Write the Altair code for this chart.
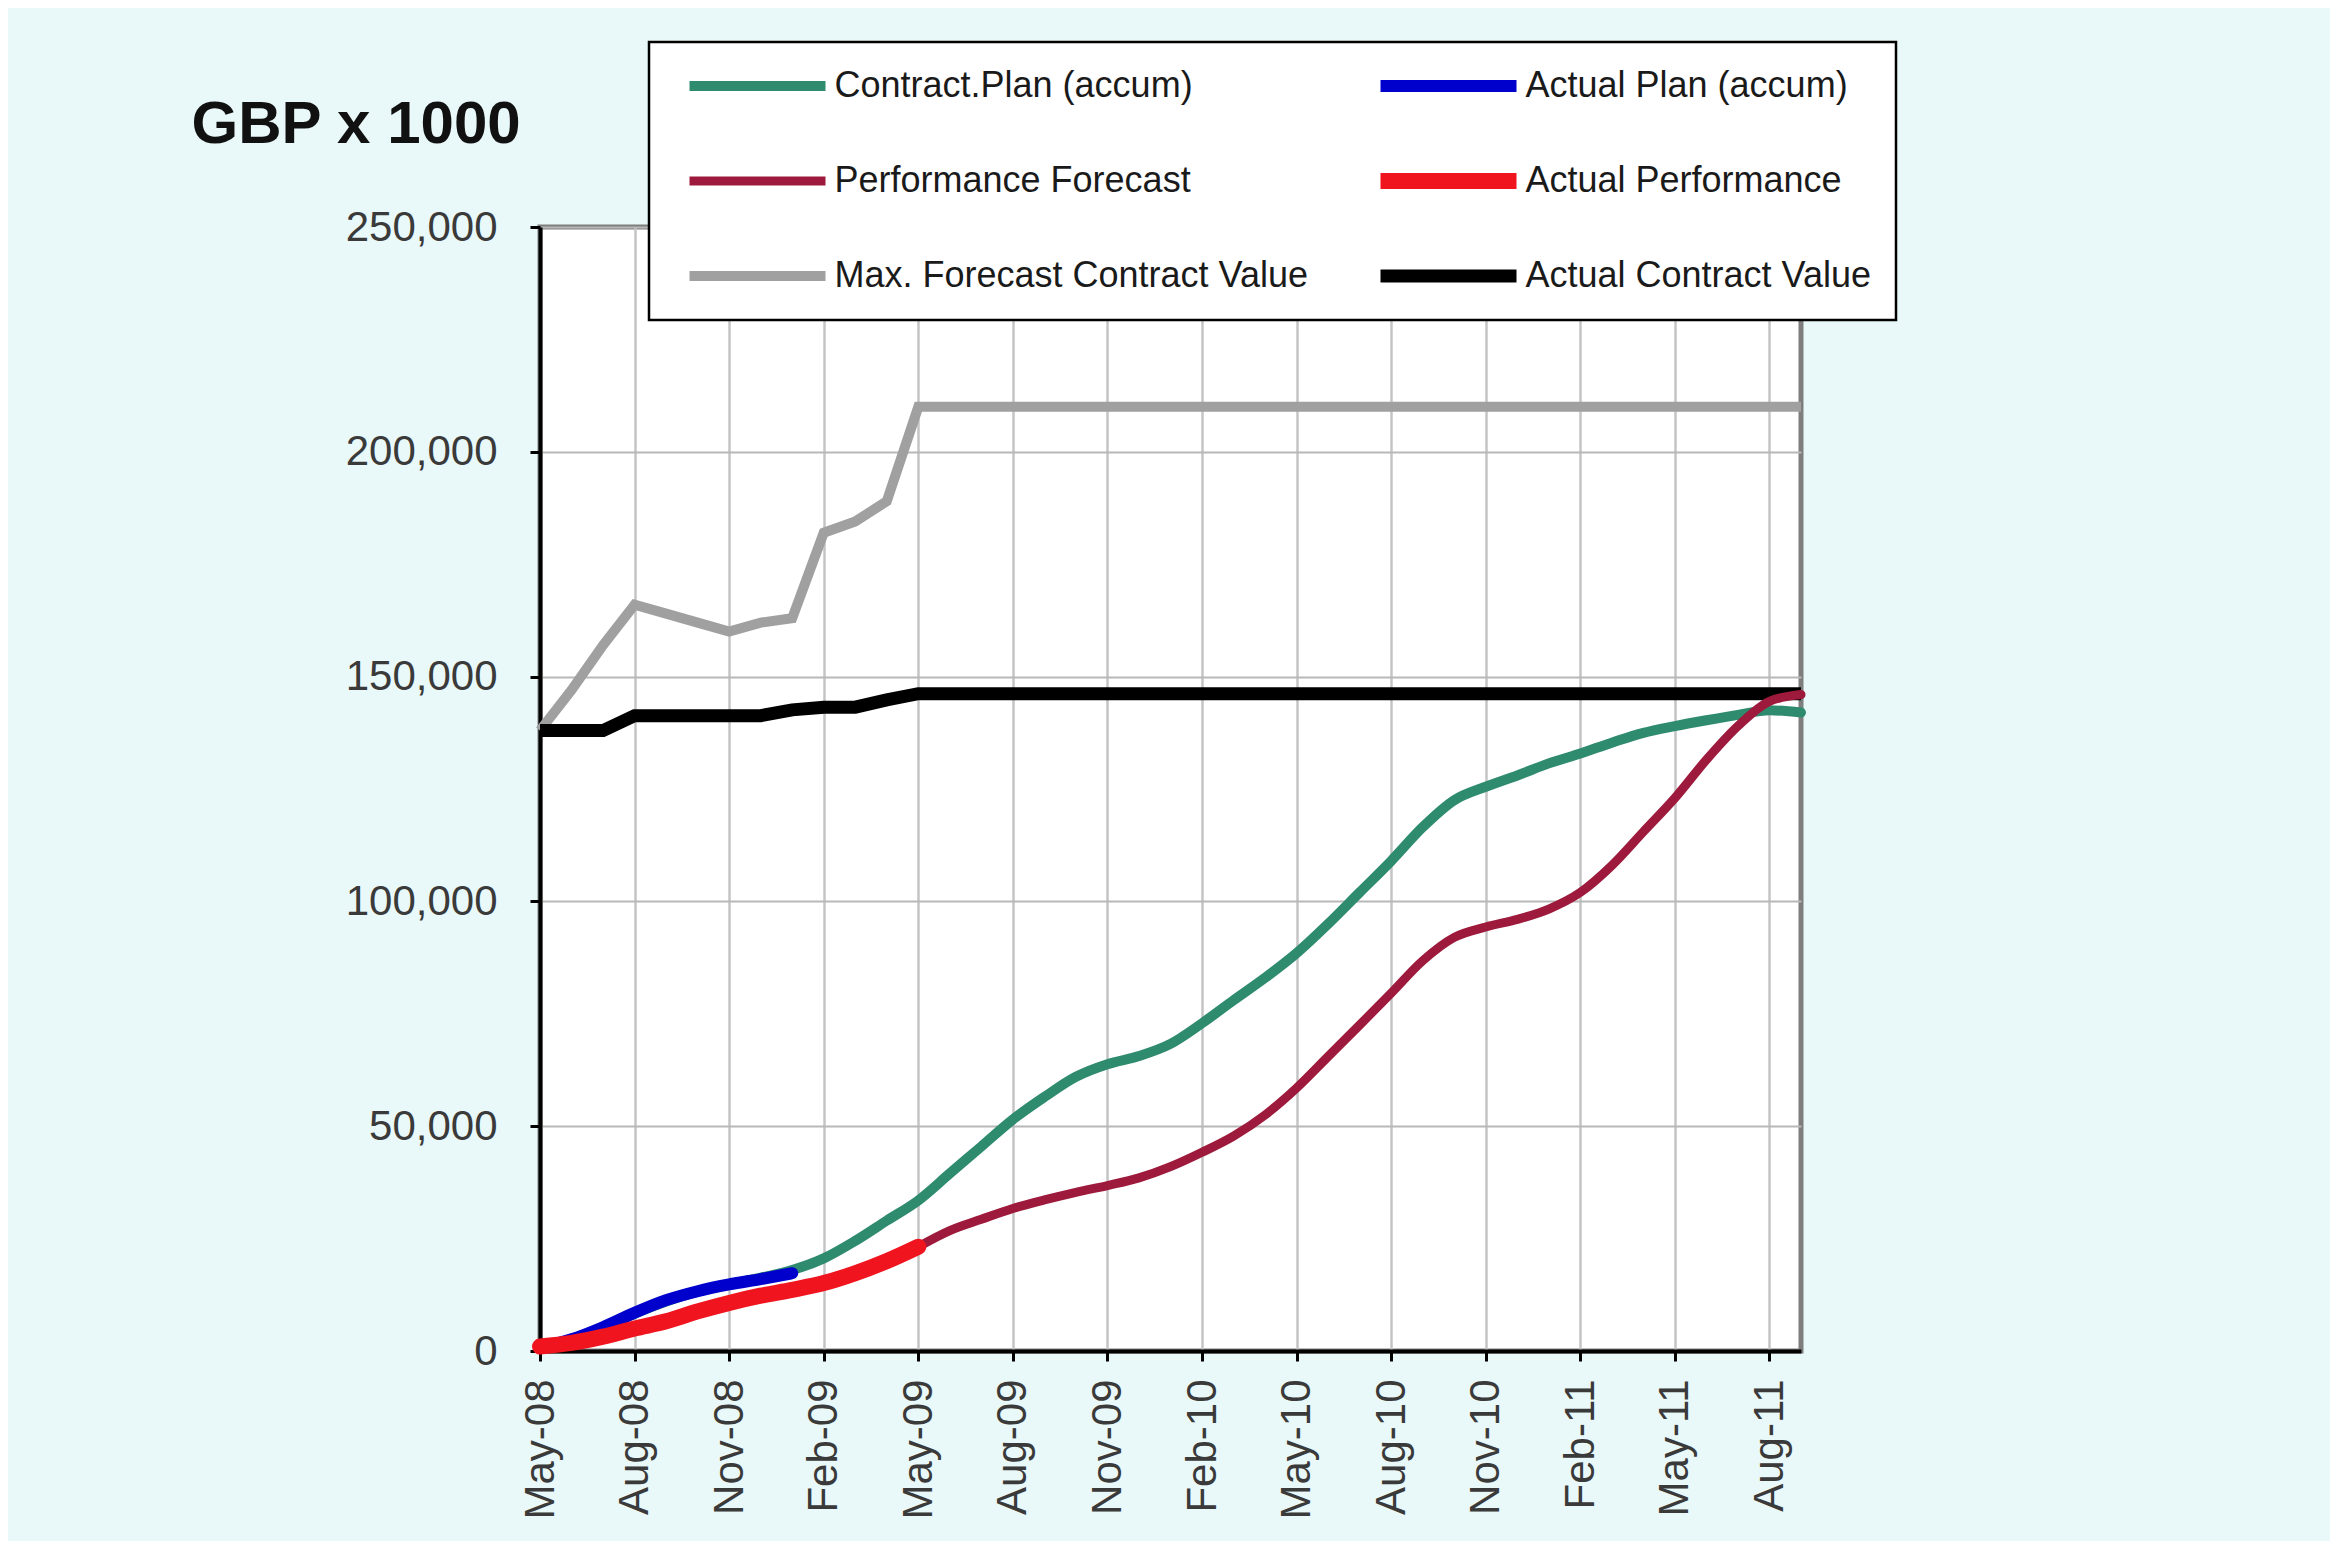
import altair as alt
import pandas as pd

months = ["May-08", "Jun-08", "Jul-08", "Aug-08", "Sep-08", "Oct-08", "Nov-08", "Dec-08",
          "Jan-09", "Feb-09", "Mar-09", "Apr-09", "May-09", "Jun-09", "Jul-09", "Aug-09",
          "Sep-09", "Oct-09", "Nov-09", "Dec-09", "Jan-10", "Feb-10", "Mar-10", "Apr-10",
          "May-10", "Jun-10", "Jul-10", "Aug-10", "Sep-10", "Oct-10", "Nov-10", "Dec-10",
          "Jan-11", "Feb-11", "Mar-11", "Apr-11", "May-11", "Jun-11", "Jul-11", "Aug-11",
          "Sep-11"]

tick_labels = ["May-08", "Aug-08", "Nov-08", "Feb-09", "May-09", "Aug-09", "Nov-09",
               "Feb-10", "May-10", "Aug-10", "Nov-10", "Feb-11", "May-11", "Aug-11"]

y_ticks = [0, 50000, 100000, 150000, 200000, 250000]

series_names = ["Contract.Plan (accum)", "Actual Plan (accum)", "Performance Forecast",
                "Actual Performance", "Max. Forecast Contract Value", "Actual Contract Value"]

contract_plan = [500, 2500, 5000, 8300, 11000, 13200, 14800, 16300, 18000, 20600,
                 24500, 29000, 33500, 39500, 45500, 51500, 56500, 61000, 63800, 65600,
                 68300, 72900, 78000, 83000, 88500, 95000, 102000, 109000, 116500, 122500,
                 125500, 128000, 130700, 132900, 135300, 137500, 139000, 140300, 141500,
                 142500, 142000]

actual_plan = [800, 2600, 5300, 8500, 11300, 13300, 14800, 16000, 17300]

actual_performance = [1000, 1800, 3200, 5000, 6600, 8800, 10700, 12300, 13600, 15100,
                      17300, 20000, 23200]

performance_forecast = [23200, 26800, 29300, 31700, 33600, 35300, 36800, 38500, 41000,
                        44200, 47800, 52500, 58500, 65500, 72500, 79600, 86800, 92000,
                        94300, 96000, 98300, 102000, 108000, 115500, 123000, 131500,
                        139000, 144500, 146000]

max_forecast = [138000, 147000, 157000, 166000, 164000, 162000, 160000, 162000, 163000,
                182000, 184500, 189000, 210000, 210000, 210000, 210000, 210000, 210000,
                210000, 210000, 210000, 210000, 210000, 210000, 210000, 210000, 210000,
                210000, 210000, 210000, 210000, 210000, 210000, 210000, 210000, 210000,
                210000, 210000, 210000, 210000, 210000]

actual_contract = [138000, 138000, 138000, 141300, 141300, 141300, 141300, 141300, 142600,
                   143200, 143200, 144800, 146200, 146200, 146200, 146200, 146200, 146200,
                   146200, 146200, 146200, 146200, 146200, 146200, 146200, 146200, 146200,
                   146200, 146200, 146200, 146200, 146200, 146200, 146200, 146200, 146200,
                   146200, 146200, 146200, 146200, 146200]

colors = ["#2E8B6E", "#0000CC", "#9E1A3C", "#F0141E", "#A0A0A0", "#000000"]
widths = [10, 12, 9, 16, 10, 13]


def rows(name, values, start=0):
    return [{"month": months[start + i], "series": name, "value": v}
            for i, v in enumerate(values)]


smooth_df = pd.DataFrame(
    rows(series_names[0], contract_plan)
    + rows(series_names[1], actual_plan)
    + rows(series_names[2], performance_forecast, start=12)
    + rows(series_names[3], actual_performance)
)
straight_df = pd.DataFrame(
    rows(series_names[4], max_forecast)
    + rows(series_names[5], actual_contract)
)

legend = alt.Legend(
    title=None, orient="none", legendX=109, legendY=-185, columns=2, direction="horizontal",
    gridAlign="all", symbolType="stroke", symbolSize=18496, clipHeight=40, symbolOffset=8.5,
    labelOffset=1, columnPadding=55, rowPadding=55, labelFontSize=36,
    labelFont="Liberation Sans", labelColor="#1a1a1a", labelLimit=900,
    padding=24, fillColor="white", strokeColor="black",
)

x_enc = alt.X(
    "month:O", sort=months,
    scale=alt.Scale(type="point", padding=0, domain=months),
    axis=alt.Axis(values=tick_labels, labelAngle=270, labelAlign="right",
                  labelBaseline="middle", title=None, grid=True,
                  gridColor="#C4C4C4", gridWidth=2.5, labelPadding=18),
)
y_enc = alt.Y(
    "value:Q", scale=alt.Scale(domain=[0, 250000], nice=False),
    axis=alt.Axis(values=y_ticks, format=",.0f", title="GBP x 1000", titleAngle=0,
                  titleX=-349, titleY=-85, titleAlign="left", titleBaseline="alphabetic",
                  titleFontSize=60, titleFontWeight="bold", titleFont="Liberation Sans",
                  titleColor="#111111", grid=True, gridColor="#B8B8B8", gridWidth=2,
                  labelPadding=33),
)
color_enc = alt.Color("series:N", scale=alt.Scale(domain=series_names, range=colors),
                      legend=legend)
width_enc = alt.StrokeWidth("series:N",
                            scale=alt.Scale(type="ordinal", domain=series_names, range=widths),
                            legend=legend)

smooth = alt.Chart(smooth_df).mark_line(interpolate="monotone", strokeCap="round",
                                        strokeJoin="round").encode(
    x=x_enc, y=y_enc, color=color_enc, strokeWidth=width_enc
)
straight = alt.Chart(straight_df).mark_line(strokeJoin="miter").encode(
    x=x_enc, y=y_enc, color=color_enc, strokeWidth=width_enc
)

chart = alt.layer(straight, smooth).properties(
    width=1261, height=1124,
    autosize=alt.AutoSizeParams(type="none"),
    padding={"left": 532, "top": 219, "right": 529, "bottom": 190},
    background="#E9F8F8",
).configure_view(
    fill="white", stroke="#7E7E7E", strokeWidth=5
).configure_axis(
    labelFont="Liberation Sans", labelFontSize=42, labelColor="#3a3a3a",
    domainColor="#000000", domainWidth=4, tickColor="#000000", tickSize=10, tickWidth=3,
).configure_legend(
    strokeWidth=2.5
)

chart.save("out.html", embed_options={"renderer": "svg", "actions": False})
